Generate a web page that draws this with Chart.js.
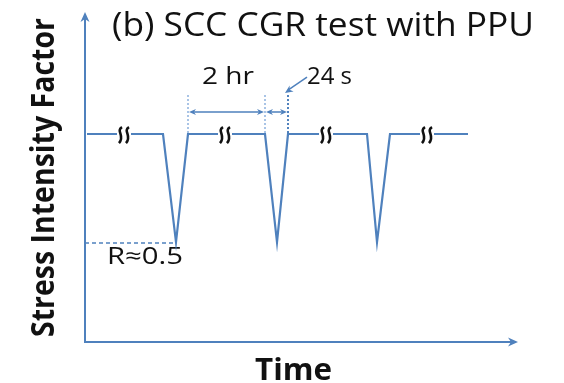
<!DOCTYPE html>
<html>
<head>
<meta charset="utf-8">
<script src="https://cdn.jsdelivr.net/npm/chart.js@4/dist/chart.umd.min.js"></script>
<style>
  html, body { margin: 0; padding: 0; background: #ffffff; }
  #c { display: block; }
</style>
</head>
<body>
<canvas id="c" width="564" height="383"></canvas>
<script>
// ---- Data (schematic loading waveform, arbitrary time units) ----
const timePoints = [0.2, 7.8, 9.1, 10.3, 18.0, 19.2, 20.3, 28.2, 29.2, 30.5, 38.3];
const kValues    = [1.0, 1.0, 0.5, 1.0, 1.0, 0.5, 1.0, 1.0, 0.5, 1.0, 1.0];
const breakMarks = [3.9, 14.0, 24.1, 34.2];        // "≀≀" hold-time breaks
const holdStart  = 10.3, holdEnd = 18.0, unloadEnd = 20.3;   // 2 hr / 24 s markers
const rLevel     = 0.5;                              // R ≈ 0.5 (min K level)
const xRange     = [0, 43.3];
const yRange     = [0.037, 1.565];
const titleText  = "(b) SCC CGR test with PPU";
const xLabel     = "Time";
const yLabel     = "Stress Intensity Factor";
const holdLabel  = "2 hr";
const unloadLabel= "24 s";
const rLabel     = "R\u22480.5";

const BLUE = "#4F81BD";
const LIGHT = "#A9C4E6";

function fitText(ctx, text, font, x0, x1, baseline) {
  ctx.save();
  ctx.font = font;
  ctx.textBaseline = "alphabetic";
  ctx.textAlign = "left";
  const w = ctx.measureText(text).width;
  ctx.translate(x0, baseline);
  ctx.scale((x1 - x0) / w, 1);
  ctx.fillText(text, 0, 0);
  ctx.restore();
}

function arrowHead(ctx, x, y, ang, len, wid, color) {
  ctx.save();
  ctx.fillStyle = color;
  ctx.translate(x, y);
  ctx.rotate(ang);
  ctx.beginPath();
  ctx.moveTo(0, 0);
  ctx.lineTo(-len, -wid / 2);
  ctx.lineTo(-len * 0.7, 0);
  ctx.lineTo(-len, wid / 2);
  ctx.closePath();
  ctx.fill();
  ctx.restore();
}

const decor = {
  id: "decor",
  beforeDatasetsDraw(chart) {
    const ctx = chart.ctx;
    const xs = chart.scales.x, ys = chart.scales.y;
    const x0 = xs.getPixelForValue(xRange[0]);
    const x1 = xs.getPixelForValue(xRange[1]);
    const y0 = ys.getPixelForValue(yRange[0]);
    const y1 = ys.getPixelForValue(yRange[1]);
    ctx.save();
    // axes
    ctx.strokeStyle = BLUE;
    ctx.lineWidth = 2;
    ctx.beginPath();
    ctx.moveTo(x0, y1 + 6);
    ctx.lineTo(x0, y0);
    ctx.lineTo(x1 - 6, y0);
    ctx.stroke();
    arrowHead(ctx, x0, y1, -Math.PI / 2, 10, 9, BLUE);
    arrowHead(ctx, x1, y0, 0, 10, 9, BLUE);

    // R dashed line
    const yR = ys.getPixelForValue(rLevel) + 1;
    const xBottom = xs.getPixelForValue(timePoints[2]);
    ctx.setLineDash([4, 3]);
    ctx.lineWidth = 1.5;
    ctx.beginPath();
    ctx.moveTo(x0, yR);
    ctx.lineTo(xBottom, yR);
    ctx.stroke();

    // dotted vertical markers
    const yTop = ys.getPixelForValue(kValues[0]);
    const yMarkTop = yTop - 39;
    const pA = xs.getPixelForValue(holdStart);
    const pB = xs.getPixelForValue(holdEnd);
    const pC = xs.getPixelForValue(unloadEnd);
    ctx.setLineDash([2, 2]);
    ctx.lineWidth = 2;
    ctx.strokeStyle = LIGHT;
    ctx.beginPath();
    ctx.moveTo(pA, yMarkTop); ctx.lineTo(pA, yTop);
    ctx.moveTo(pB, yMarkTop); ctx.lineTo(pB, yTop);
    ctx.stroke();
    ctx.strokeStyle = BLUE;
    ctx.beginPath();
    ctx.moveTo(pC, yMarkTop); ctx.lineTo(pC, yTop);
    ctx.stroke();
    ctx.setLineDash([]);

    // dimension arrows
    const yDim = yTop - 22;
    ctx.strokeStyle = BLUE;
    ctx.lineWidth = 1.5;
    ctx.beginPath();
    ctx.moveTo(pA + 4, yDim); ctx.lineTo(pB - 4, yDim);
    ctx.moveTo(pB + 4, yDim); ctx.lineTo(pC - 4, yDim);
    ctx.stroke();
    arrowHead(ctx, pA + 1, yDim, Math.PI, 7, 6, BLUE);
    arrowHead(ctx, pB - 1, yDim, 0, 7, 6, BLUE);
    arrowHead(ctx, pB + 1, yDim, Math.PI, 7, 6, BLUE);
    arrowHead(ctx, pC - 1, yDim, 0, 7, 6, BLUE);

    // pointer arrow to 24 s marker
    ctx.beginPath();
    ctx.moveTo(pC + 19, yTop - 57);
    ctx.lineTo(pC, yTop - 44);
    ctx.stroke();
    arrowHead(ctx, pC - 3, yTop - 41, Math.atan2(13, -19), 8, 7, BLUE);

    // texts
    ctx.fillStyle = "#111111";
    fitText(ctx, titleText, "32px 'Open Sans'", 112, 534, 36);
    fitText(ctx, xLabel, "bold 30px 'Open Sans'", 255, 332, 380);
    fitText(ctx, holdLabel, "24px 'Open Sans'", 202, 254, 84);
    fitText(ctx, unloadLabel, "24px 'Open Sans'", 307, 352, 84);
    fitText(ctx, rLabel, "23px 'Open Sans'", 107, 183, 264);

    // rotated y label
    ctx.save();
    ctx.font = "bold 33px 'Open Sans'";
    const w = ctx.measureText(yLabel).width;
    ctx.translate(54, 337);
    ctx.rotate(-Math.PI / 2);
    ctx.scale((337 - 18) / w, 1);
    ctx.textBaseline = "alphabetic";
    ctx.fillText(yLabel, 0, 0);
    ctx.restore();

    ctx.restore();
  },
  afterDatasetsDraw(chart) {
    const ctx = chart.ctx;
    const xs = chart.scales.x, ys = chart.scales.y;
    const yc = ys.getPixelForValue(kValues[0]) + 1;
    ctx.save();
    breakMarks.forEach(v => {
      const xc = xs.getPixelForValue(v);
      ctx.fillStyle = "#ffffff";
      ctx.fillRect(xc - 7, yc - 3, 14, 5);
      ctx.strokeStyle = "#111111";
      ctx.lineWidth = 2.6;
      [-3.5, 3.5].forEach(dx => {
        const cx = xc + dx;
        ctx.beginPath();
        ctx.moveTo(cx + 1.5, yc - 8);
        ctx.bezierCurveTo(cx - 5, yc - 4, cx + 5, yc + 1, cx - 1.5, yc + 8);
        ctx.stroke();
      });
    });
    ctx.restore();
  }
};

new Chart(document.getElementById("c"), {
  type: "line",
  data: {
    datasets: [{
      data: timePoints.map((t, i) => ({ x: t, y: kValues[i] })),
      borderColor: BLUE,
      borderWidth: 2.2,
      pointRadius: 0,
      tension: 0,
      fill: false
    }]
  },
  options: {
    responsive: false,
    animation: false,
    devicePixelRatio: 1,
    layout: { padding: { left: 85, right: 46, top: 12, bottom: 41 } },
    plugins: { legend: { display: false }, tooltip: { enabled: false }, title: { display: false } },
    scales: {
      x: { type: "linear", min: xRange[0], max: xRange[1], display: false },
      y: { type: "linear", min: yRange[0], max: yRange[1], display: false }
    }
  },
  plugins: [decor]
});
</script>
</body>
</html>
